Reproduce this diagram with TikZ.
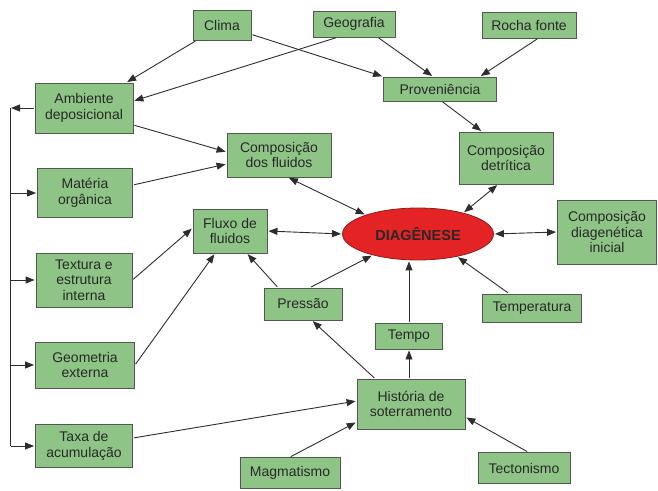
\documentclass[tikz,border=0pt]{standalone}
\usepackage{fontspec}
\setmainfont{Liberation Sans}
\usetikzlibrary{arrows.meta}
\usetikzlibrary{shapes.geometric}
\definecolor{boxgreen}{RGB}{142,197,134}
\definecolor{boxline}{RGB}{80,88,80}
\definecolor{diared}{RGB}{228,36,36}
\definecolor{dialine}{RGB}{140,28,28}
\definecolor{linegray}{RGB}{45,45,45}
\definecolor{textgray}{RGB}{40,40,40}
\tikzset{
  box/.style={draw=boxline, fill=boxgreen, line width=0.9pt, inner sep=0pt,
    align=center, text=textgray, font=\fontsize{14}{15.5}\selectfont},
  arr/.style={-{Triangle[length=9pt,width=7pt]}, draw=linegray, line width=0.9pt,
    shorten >=1pt, shorten <=1pt},
  darr/.style={arr, {Triangle[length=9pt,width=7pt]}-{Triangle[length=9pt,width=7pt]}},
}
\begin{document}
\begin{tikzpicture}[x=1pt,y=-1pt]
\useasboundingbox (0,0) rectangle (658,490);
\node[box, minimum width=58pt, minimum height=30pt] (clima) at (222,25) {Clima};
\node[box, minimum width=82pt, minimum height=26pt] (geo) at (354,24) {Geografia};
\node[box, minimum width=94pt, minimum height=26pt] (rocha) at (529,25) {Rocha fonte};
\node[box, minimum width=113pt, minimum height=24pt] (prov) at (440,89) {Proveniência};
\node[box, minimum width=98pt, minimum height=50pt] (amb) at (84,108) {Ambiente\\deposicional};
\node[box, minimum width=95pt, minimum height=49pt] (mat) at (85,193) {Matéria\\orgânica};
\node[box, minimum width=96pt, minimum height=54pt] (tex) at (84,280) {Textura e\\estrutura\\interna};
\node[box, minimum width=99pt, minimum height=46pt] (geom) at (85,365) {Geometria\\externa};
\node[box, minimum width=97pt, minimum height=43pt] (taxa) at (84,446) {Taxa de\\acumulação};
\node[box, minimum width=104pt, minimum height=44pt] (cf) at (279,155) {Composição\\dos fluidos};
\node[box, minimum width=94pt, minimum height=52pt] (det) at (506,158) {Composição\\detrítica};
\node[box, minimum width=74pt, minimum height=44pt] (fluxo) at (230,231) {Fluxo de\\fluidos};
\node[box, minimum width=99pt, minimum height=64pt] (cdi) at (607,232) {Composição\\diagenética\\inicial};
\node[ellipse, draw=dialine, fill=diared, line width=0.8pt, inner sep=0pt,
  minimum width=151pt, minimum height=52pt, text=textgray,
  font=\fontsize{14.5}{15}\selectfont\bfseries] (dia) at (418,234) {DIAGÊNESE};
\node[box, minimum width=78pt, minimum height=32pt] (pres) at (303,304) {Pressão};
\node[box, minimum width=99pt, minimum height=28pt] (temp) at (532,308) {Temperatura};
\node[box, minimum width=67pt, minimum height=26pt] (tempo) at (409,336) {Tempo};
\node[box, minimum width=108pt, minimum height=50pt] (hist) at (411,404) {História de\\soterramento};
\node[box, minimum width=100pt, minimum height=31pt] (mag) at (290,473) {Magmatismo};
\node[box, minimum width=92pt, minimum height=31pt] (tec) at (524,468) {Tectonismo};

\coordinate (bustop) at (10,108);
\coordinate (busbot) at (10,446);
\draw[arr] (amb.west) -- (bustop);
\draw[draw=linegray, line width=0.9pt] (bustop) -- (busbot);
\foreach \n in {mat,tex,geom,taxa}
  \draw[arr] (bustop |- \n.west) -- (\n.west);

\draw[arr] (clima) -- (amb);
\draw[arr] (clima) -- (prov.north west);
\draw[arr] ([xshift=-17pt]geo.south) -- ([yshift=7pt]amb.east);
\draw[arr] ([xshift=24pt]geo.south) -- ([xshift=-7pt]prov.north);
\draw[arr] ([xshift=9pt]rocha.south) -- ([xshift=40pt]prov.north);
\draw[arr] ([xshift=2pt]prov.south) -- ([xshift=-24pt]det.north);
\draw[arr] ([yshift=-17pt]amb.east) -- ([yshift=3pt]cf.west);
\draw[arr] ([yshift=8pt]mat.east) -- ([yshift=-9pt]cf.west);
\draw[darr] ([xshift=9pt]cf.south) -- (dia.160);
\draw[darr] ([xshift=-8pt]det.south) -- (dia.25);
\draw[darr] (fluxo.east) -- (dia.west);
\draw[darr] (dia.east) -- (cdi.west);
\draw[arr] ([xshift=7pt]pres.north) -- (dia.205);
\draw[arr] ([xshift=-25pt]pres.north) -- ([xshift=17pt]fluxo.south);
\draw[arr] (tex.east) -- ([yshift=3pt]fluxo.west);
\draw[arr] (geom.east) -- ([xshift=-15pt]fluxo.south);
\draw[arr] (tempo.north) -- (tempo.north |- dia.south);
\draw[arr] ([xshift=-23pt]temp.north) -- (dia.-30);
\draw[arr] ([xshift=-36pt]hist.north) -- ([xshift=9pt]pres.south);
\draw[arr] (hist.north -| tempo.south) -- (tempo.south);
\draw[arr] ([yshift=8pt]taxa.east) -- ([yshift=3pt]hist.west);
\draw[arr] (mag.north) -- ([yshift=-18pt]hist.west);
\draw[arr] ([xshift=4pt]tec.north) -- ([yshift=-13pt]hist.east);
\end{tikzpicture}
\end{document}
